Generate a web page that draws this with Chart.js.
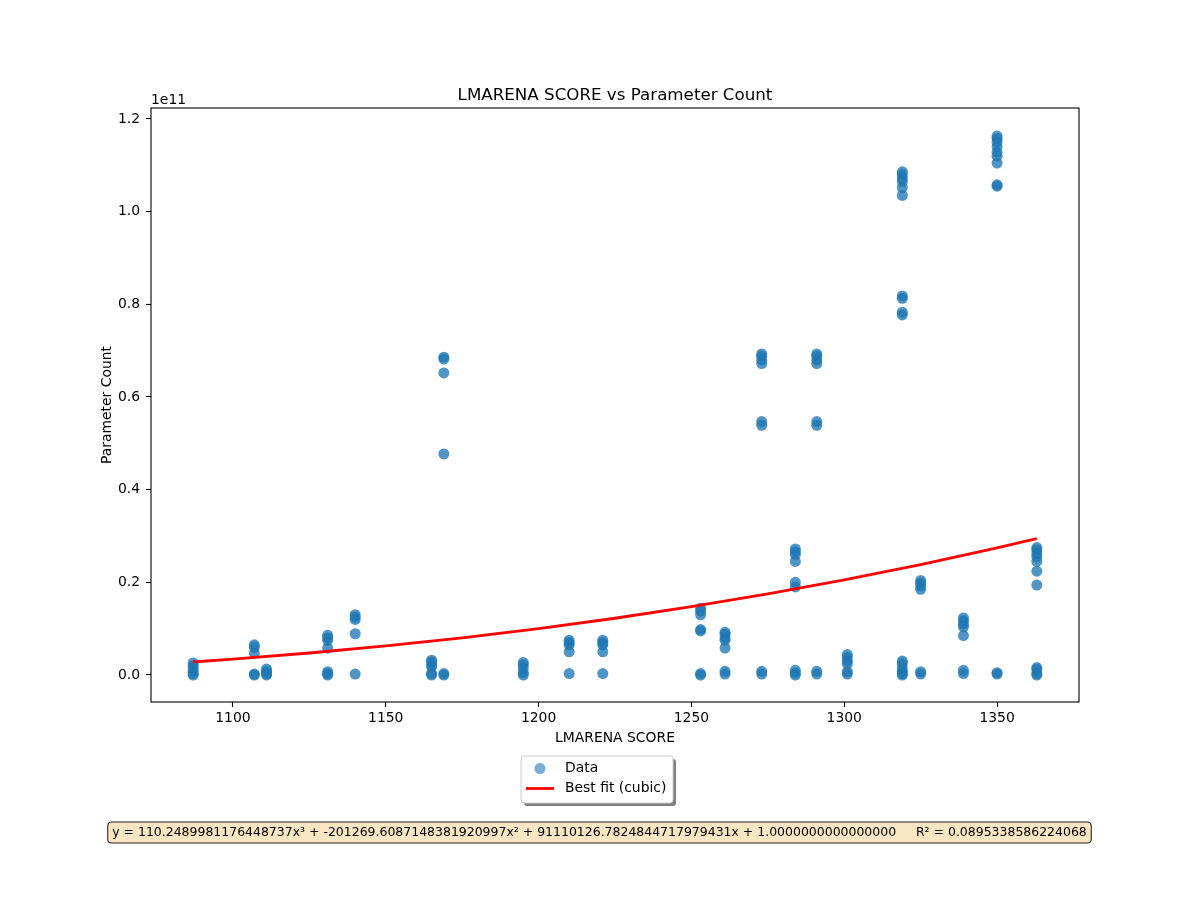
<!DOCTYPE html>
<html>
<head>
<meta charset="utf-8">
<script src="https://cdn.jsdelivr.net/npm/chart.js@4.4.0/dist/chart.umd.min.js"></script>
<style>
html,body{margin:0;padding:0;background:#ffffff;}
#wrap{width:1200px;height:900px;position:relative;}
</style>
</head>
<body>
<div id="wrap"><canvas id="c" width="1200" height="900"></canvas></div>
<script>
// ---- data ----
const scores = [
  1087,1087,1087,1087,1087,1087,
  1107,1107,1107,1107,1107,
  1111,1111,1111,1111,
  1131,1131,1131,1131,1131,1131,1131,
  1140,1140,1140,1140,1140,
  1165,1165,1165,1165,1165,1165,
  1169,1169,1169,1169,1169,1169,
  1195,1195,1195,1195,1195,
  1210,1210,1210,1210,1210,
  1221,1221,1221,1221,1221,
  1253,1253,1253,1253,1253,1253,1253,
  1261,1261,1261,1261,1261,1261,1261,
  1273,1273,1273,1273,1273,1273,1273,1273,
  1284,1284,1284,1284,1284,1284,1284,1284,1284,
  1291,1291,1291,1291,1291,1291,1291,1291,
  1301,1301,1301,1301,1301,1301,
  1319,1319,1319,1319,1319,1319,1319,1319,1319,1319,1319,1319,1319,1319,1319,1319,
  1325,1325,1325,1325,1325,1325,
  1339,1339,1339,1339,1339,1339,1339,
  1350,1350,1350,1350,1350,1350,1350,1350,1350,1350,1350,
  1363,1363,1363,1363,1363,1363,1363,1363,1363,1363,1363
];
const paramCounts = [
  2.6e9,2.0e9,1.5e9,0.8e9,0.3e9,0,
  6.5e9,6.0e9,4.7e9,0.2e9,0,
  1.3e9,0.8e9,0.3e9,0,
  8.6e9,8.0e9,7.5e9,5.8e9,0.7e9,0.3e9,0,
  1.30e10,1.25e10,1.20e10,8.9e9,0.2e9,
  3.2e9,2.8e9,2.2e9,1.7e9,0.3e9,0,
  6.86e10,6.82e10,6.52e10,4.77e10,0.3e9,0,
  2.7e9,2.2e9,1.5e9,0.5e9,0,
  7.5e9,7.0e9,6.5e9,5.0e9,0.3e9,
  7.5e9,7.0e9,6.5e9,5.0e9,0.3e9,
  1.44e10,1.38e10,1.30e10,9.8e9,9.5e9,0.3e9,0,
  9.2e9,8.8e9,8.0e9,7.5e9,5.8e9,0.8e9,0.2e9,
  6.93e10,6.88e10,6.80e10,6.72e10,5.47e10,5.39e10,0.8e9,0.2e9,
  2.72e10,2.66e10,2.60e10,2.45e10,2.00e10,1.90e10,1.0e9,0.4e9,0,
  6.93e10,6.88e10,6.80e10,6.72e10,5.47e10,5.39e10,0.8e9,0.2e9,
  4.4e9,3.8e9,3.0e9,2.4e9,0.7e9,0.2e9,
  1.086e11,1.080e11,1.072e11,1.065e11,1.052e11,1.035e11,8.18e10,8.13e10,7.83e10,7.77e10,3.0e9,2.5e9,1.5e9,0.8e9,0.3e9,0,
  2.04e10,1.98e10,1.92e10,1.85e10,0.7e9,0.2e9,
  1.23e10,1.17e10,1.10e10,1.04e10,8.5e9,1.0e9,0.3e9,
  1.163e11,1.158e11,1.150e11,1.140e11,1.128e11,1.120e11,1.105e11,1.058e11,1.055e11,0.5e9,0.2e9,
  2.75e10,2.70e10,2.62e10,2.55e10,2.45e10,2.24e10,1.94e10,1.6e9,1.2e9,0.3e9,0
];
// best-fit curve values (read / evaluated from the printed equation)
const fitScores = [1087,1100,1125,1150,1175,1200,1225,1250,1275,1300,1325,1350,1363];
const fitValues = [2.823e9,3.426e9,4.743e9,6.273e9,8.026e9,1.0014e10,1.2247e10,1.4734e10,1.7486e10,2.0515e10,2.3829e10,2.7439e10,2.9436e10];
const xTickValues = [1100,1150,1200,1250,1300,1350];
const yTickLabels = ["0.0","0.2","0.4","0.6","0.8","1.0","1.2"];
const chartTitle = "LMARENA SCORE vs Parameter Count";
const xTitle = "LMARENA SCORE";
const yTitle = "Parameter Count";
const offsetText = "1e11";
const seriesLabels = ["Data","Best fit (cubic)"];
const equationText = "y = 110.2489981176448737x\u00B3 + -201269.6087148381920997x\u00B2 + 91110126.7824844717979431x + 1.0000000000000000     R\u00B2 = 0.0895338586224068";

const FONT = "'DejaVu Sans', 'Liberation Sans', sans-serif";
const DOT = "rgba(31,119,180,0.78)";
const DOT_LEGEND = "rgba(31,119,180,0.6)";

const decor = {
  id: 'decor',
  afterDraw(chart) {
    const ctx = chart.ctx;
    const ca = chart.chartArea;
    ctx.save();
    // axes frame
    ctx.strokeStyle = '#000';
    ctx.lineWidth = 1.1;
    ctx.strokeRect(ca.left, ca.top, ca.right - ca.left, ca.bottom - ca.top);
    ctx.fillStyle = '#000';
    // title
    ctx.font = "16.7px " + FONT;
    ctx.textAlign = 'center';
    ctx.textBaseline = 'alphabetic';
    ctx.fillText(chartTitle, (ca.left + ca.right) / 2, ca.top - 8);
    // offset text
    ctx.font = "13.9px " + FONT;
    ctx.textAlign = 'left';
    ctx.fillText(offsetText, ca.left, ca.top - 4);
    // x title
    ctx.textAlign = 'center';
    ctx.fillText(xTitle, (ca.left + ca.right) / 2, 742);
    // y title
    ctx.save();
    ctx.translate(111, (ca.top + ca.bottom) / 2);
    ctx.rotate(-Math.PI / 2);
    ctx.fillText(yTitle, 0, 0);
    ctx.restore();

    // legend
    const lx = 521, ly = 756, lw = 152, lh = 47;
    const rr = (x, y, w, h, r) => {
      ctx.beginPath();
      ctx.moveTo(x + r, y);
      ctx.lineTo(x + w - r, y);
      ctx.quadraticCurveTo(x + w, y, x + w, y + r);
      ctx.lineTo(x + w, y + h - r);
      ctx.quadraticCurveTo(x + w, y + h, x + w - r, y + h);
      ctx.lineTo(x + r, y + h);
      ctx.quadraticCurveTo(x, y + h, x, y + h - r);
      ctx.lineTo(x, y + r);
      ctx.quadraticCurveTo(x, y, x + r, y);
      ctx.closePath();
    };
    ctx.fillStyle = 'rgba(0,0,0,0.5)';
    rr(lx + 3, ly + 3, lw, lh, 3);
    ctx.fill();
    ctx.fillStyle = '#fff';
    rr(lx, ly, lw, lh, 3);
    ctx.fill();
    ctx.strokeStyle = '#cccccc';
    ctx.lineWidth = 1;
    ctx.stroke();
    const ds = chart.data.datasets;
    const scatterDs = ds.find(d => d.label === seriesLabels[0]);
    const lineDs = ds.find(d => d.label === seriesLabels[1]);
    ctx.fillStyle = DOT_LEGEND;
    ctx.beginPath();
    ctx.arc(540, 768.5, 5.5, 0, Math.PI * 2);
    ctx.fill();
    ctx.strokeStyle = lineDs.borderColor;
    ctx.lineWidth = 2.8;
    ctx.beginPath();
    ctx.moveTo(526, 788.5);
    ctx.lineTo(554, 788.5);
    ctx.stroke();
    ctx.fillStyle = '#000';
    ctx.font = "13.9px " + FONT;
    ctx.textAlign = 'left';
    ctx.textBaseline = 'middle';
    ctx.fillText(scatterDs.label, 565, 768);
    ctx.fillText(lineDs.label, 565, 788);

    // equation box
    let size = 12;
    ctx.font = size + "px " + FONT;
    let w = ctx.measureText(equationText).width;
    size = size * 975 / w;
    ctx.font = size.toFixed(2) + "px " + FONT;
    w = ctx.measureText(equationText).width;
    const cx = 599.5;
    const bx = cx - w / 2 - 4.5, by = 822, bw = w + 9, bh = 21;
    ctx.fillStyle = 'rgb(248,229,194)';
    rr(bx, by, bw, bh, 4);
    ctx.fill();
    ctx.strokeStyle = 'rgba(0,0,0,0.85)';
    ctx.lineWidth = 1.1;
    ctx.stroke();
    ctx.fillStyle = '#000';
    ctx.textAlign = 'center';
    ctx.textBaseline = 'middle';
    ctx.fillText(equationText, cx, by + bh / 2 + 0.5);
    ctx.restore();
  }
};

const points = scores.map((s, i) => ({ x: s, y: paramCounts[i] }));
const fitPoints = fitScores.map((s, i) => ({ x: s, y: fitValues[i] }));

new Chart(document.getElementById('c'), {
  type: 'scatter',
  data: {
    datasets: [
      {
        type: 'line',
        label: seriesLabels[1],
        data: fitPoints,
        borderColor: 'rgb(255,0,0)',
        borderWidth: 2.8,
        pointRadius: 0,
        showLine: true,
        fill: false,
        cubicInterpolationMode: 'monotone',
        order: 0
      },
      {
        label: seriesLabels[0],
        data: points,
        backgroundColor: DOT,
        borderWidth: 0,
        pointRadius: 5.5,
        pointHoverRadius: 5.5,
        order: 1
      }
    ]
  },
  options: {
    responsive: false,
    animation: false,
    layout: { padding: { left: 0, right: 121, top: 108, bottom: 0 } },
    plugins: {
      legend: { display: false },
      title: { display: false },
      tooltip: { enabled: false }
    },
    scales: {
      x: {
        type: 'linear',
        min: 1073.2,
        max: 1376.8,
        afterFit: s => { s.height = 198; },
        afterBuildTicks: s => { s.ticks = xTickValues.map(v => ({ value: v })); },
        ticks: {
          color: '#000',
          font: { family: FONT, size: 13.9 },
          padding: 3,
          maxRotation: 0,
          callback: v => String(v)
        },
        grid: { drawOnChartArea: false, drawTicks: true, tickLength: 5, color: '#000', tickWidth: 1.1 },
        border: { display: false }
      },
      y: {
        type: 'linear',
        min: -5.83e9,
        max: 1.2237e11,
        afterFit: s => { s.width = 151; },
        afterBuildTicks: s => { s.ticks = yTickLabels.map(l => ({ value: parseFloat(l) * 1e11 })); },
        ticks: {
          color: '#000',
          font: { family: FONT, size: 13.9 },
          padding: 6,
          callback: (v, i) => yTickLabels[i]
        },
        grid: { drawOnChartArea: false, drawTicks: true, tickLength: 5, color: '#000', tickWidth: 1.1 },
        border: { display: false }
      }
    }
  },
  plugins: [decor]
});
</script>
</body>
</html>
